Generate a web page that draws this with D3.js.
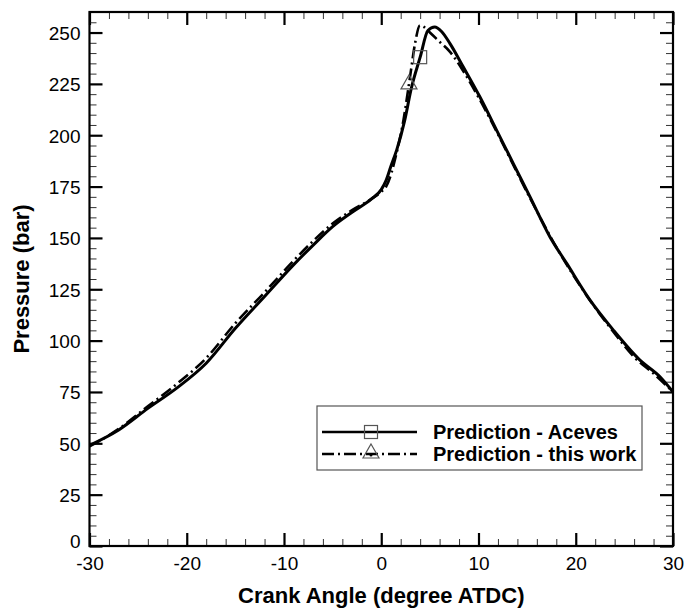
<!DOCTYPE html>
<html>
<head>
<meta charset="utf-8">
<script src="https://cdn.jsdelivr.net/npm/d3@7"></script>
<style>
  body { margin: 0; background: #fff; }
  svg { font-family: "Liberation Sans", Arial, Helvetica, sans-serif; }
</style>
</head>
<body>
<div id="chart"></div>
<script>
// crank angle (deg ATDC) / pressure (bar)
var acevesAngle = [-30, -27, -24, -21, -18, -15, -12, -9, -7, -5, -3, -1, 0, 0.5, 1, 1.6, 2.4, 3.1, 4.0, 4.8, 5.5, 6.2, 7.07, 8.44, 10.15, 11.87, 13.58, 15.3, 17.35, 19.07, 21.47, 23.87, 26.6, 28.66, 30];
var acevesPressure = [49, 56.5, 67, 77, 89, 106, 121.5, 137, 146.5, 155.5, 162.5, 169, 173.5, 178, 185, 193, 207, 223, 238, 251, 252.7, 250.5, 244.6, 233.2, 218.6, 202.4, 186.2, 170, 150.5, 137.6, 119.7, 105.1, 90.5, 82.4, 75];

var workAngle = [-30, -27, -24, -21, -18, -15, -12, -9, -7, -5, -3, -1, 0, 0.5, 1.07, 1.4, 2.27, 2.96, 3.47, 3.98, 4.3, 5, 6, 7, 8.4, 10, 12, 14, 16, 18, 20, 22, 24, 26, 28, 30];
var workPressure = [48.5, 57, 68, 79, 91.5, 108.5, 123.5, 139, 148.5, 157, 163.5, 169, 172.5, 175, 182, 188, 207, 228.4, 244.6, 253.5, 253, 250, 245.5, 241, 231.5, 218.5, 200.5, 181.5, 163, 145.5, 130, 116, 103.5, 92, 84, 75];

// one symbol per curve
var acevesMarker = [4.0, 238];
var workMarker = [2.85, 225];

var xTicks = [-30, -20, -10, 0, 10, 20, 30];
var yTicks = [0, 25, 50, 75, 100, 125, 150, 175, 200, 225, 250];
var legendLabels = ["Prediction - Aceves", "Prediction - this work"];

var W = 684, H = 609;
var margin = {top: 12, right: 11, bottom: 63, left: 89.5};
var width = W - margin.left - margin.right,
    height = H - margin.top - margin.bottom;

var svg = d3.select("#chart").append("svg")
    .attr("width", W)
    .attr("height", H);

var g = svg.append("g")
    .attr("transform", "translate(" + margin.left + "," + margin.top + ")");

var x = d3.scaleLinear().domain([-30, 30]).range([0, width]);
var y = d3.scaleLinear().domain([0, 260]).range([height, 0]);

// plain hyphen for negatives, like the original
var fmt = function(d){ return String(d); };

// inward ticks on all four sides
function tickAxis(axisFn, scale, major, minor, transform, showLabels) {
  var minorAxis = axisFn(scale).tickValues(minor).tickSize(-7).tickFormat("");
  var majorAxis = axisFn(scale).tickValues(major).tickSize(-13).tickPadding(20)
      .tickFormat(showLabels ? fmt : "");
  var gm = g.append("g").attr("transform", transform).call(minorAxis);
  gm.select(".domain").remove();
  gm.selectAll("line").attr("stroke", "#333").attr("stroke-width", 1);
  var gM = g.append("g").attr("transform", transform).call(majorAxis);
  gM.select(".domain").remove();
  gM.selectAll("line").attr("stroke", "#000").attr("stroke-width", 2.2);
  return gM;
}

var xMinor = d3.range(-30, 31, 2).filter(function(d){ return d % 10 !== 0; });
var yMinor = d3.range(0, 261, 5).filter(function(d){ return d % 25 !== 0; });

var xb = tickAxis(d3.axisBottom, x, xTicks, xMinor, "translate(0," + height + ")", true);
xb.selectAll("text").attr("font-size", "19px").attr("fill", "#000")
    .attr("y", 11).attr("dy", "0.71em");
tickAxis(d3.axisTop, x, xTicks, xMinor, "translate(0,0)", false);
var yl = tickAxis(d3.axisLeft, y, yTicks, yMinor, "translate(0,0)", true);
yl.selectAll("text").attr("font-size", "19px").attr("fill", "#000")
    .attr("x", -9).attr("dy", function(d){ return d === 0 ? "0.1em" : "0.36em"; });
tickAxis(d3.axisRight, y, yTicks, yMinor, "translate(" + width + ",0)", false);

// frame
g.append("rect")
    .attr("width", width).attr("height", height)
    .attr("fill", "none").attr("stroke", "#000").attr("stroke-width", 2.2);

var line = d3.line()
    .x(function(d){ return x(d[0]); })
    .y(function(d){ return y(d[1]); })
    .curve(d3.curveMonotoneX);

var aceves = d3.zip(acevesAngle, acevesPressure);
var work = d3.zip(workAngle, workPressure);

var plot = g.append("g");
plot.append("path").datum(work)
    .attr("d", line).attr("fill", "none")
    .attr("stroke", "#000").attr("stroke-width", 2.6)
    .attr("stroke-dasharray", "12,4,2,4");
plot.append("path").datum(aceves)
    .attr("d", line).attr("fill", "none")
    .attr("stroke", "#000").attr("stroke-width", 3);

function square(sel, cx, cy) {
  sel.append("rect")
      .attr("x", cx - 6.5).attr("y", cy - 6.5)
      .attr("width", 13).attr("height", 13)
      .attr("fill", "none").attr("stroke", "#555").attr("stroke-width", 1.2);
}
function triangle(sel, cx, cy) {
  sel.append("path")
      .attr("d", "M" + cx + "," + (cy - 9) + "L" + (cx + 8) + "," + (cy + 5) + "L" + (cx - 8) + "," + (cy + 5) + "Z")
      .attr("fill", "none").attr("stroke", "#555").attr("stroke-width", 1.2);
}
square(plot, x(acevesMarker[0]), y(acevesMarker[1]));
triangle(plot, x(workMarker[0]), y(workMarker[1]));

// legend
var lg = svg.append("g").attr("transform", "translate(317,406)");
lg.append("rect").attr("width", 325).attr("height", 64)
    .attr("fill", "#fff").attr("stroke", "#555").attr("stroke-width", 1.2);
var rows = [26, 48];
lg.append("line").attr("x1", 5).attr("x2", 100).attr("y1", rows[0]).attr("y2", rows[0])
    .attr("stroke", "#000").attr("stroke-width", 2.6);
lg.append("line").attr("x1", 5).attr("x2", 100).attr("y1", rows[1]).attr("y2", rows[1])
    .attr("stroke", "#000").attr("stroke-width", 2.4).attr("stroke-dasharray", "12,4,2,4");
square(lg, 54, rows[0]);
triangle(lg, 54, rows[1] - 1);
lg.append("circle").attr("cx", 54).attr("cy", rows[1] + 1).attr("r", 1.5).attr("fill", "#000");
lg.selectAll("text.lab").data(legendLabels).enter().append("text")
    .attr("class", "lab")
    .attr("x", 116).attr("y", function(d, i){ return rows[i]; })
    .attr("dy", "0.36em")
    .attr("font-size", "20px").attr("font-weight", "bold")
    .text(function(d){ return d; });

// axis titles
svg.append("text")
    .attr("x", margin.left + width / 2).attr("y", 603)
    .attr("text-anchor", "middle")
    .attr("font-size", "22px").attr("font-weight", "bold")
    .text("Crank Angle (degree ATDC)");
svg.append("text")
    .attr("transform", "translate(29," + (margin.top + height / 2) + ") rotate(-90)")
    .attr("text-anchor", "middle")
    .attr("font-size", "22px").attr("font-weight", "bold")
    .text("Pressure (bar)");
</script>
</body>
</html>
